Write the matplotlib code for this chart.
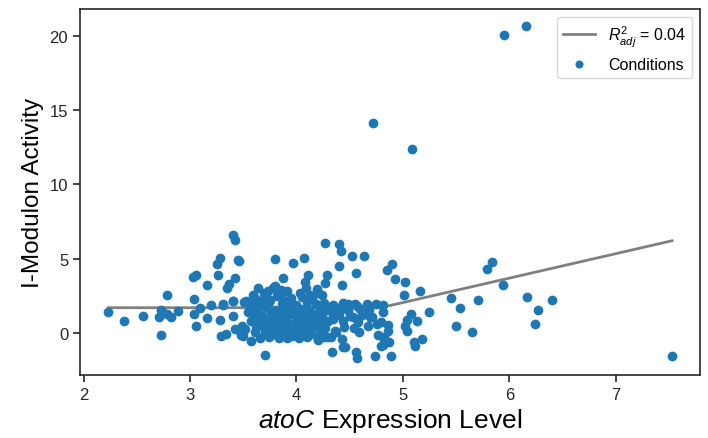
import matplotlib
matplotlib.use("Agg")
import matplotlib.pyplot as plt

plt.rcParams['font.family'] = ['Liberation Sans', 'DejaVu Sans']
plt.rcParams['mathtext.fontset'] = 'custom'
plt.rcParams['mathtext.rm'] = 'Liberation Sans'
plt.rcParams['mathtext.it'] = 'Liberation Sans:italic'

# expression level / i-modulon activity
expr = [
    # sparse left part
    2.23, 2.38, 2.56, 2.71, 2.73, 2.73, 2.78, 2.78, 2.82, 2.89,
    3.04, 3.04, 3.06, 3.03, 3.06, 3.16, 3.16, 3.09, 3.20, 3.28,
    3.29, 3.34, 3.25, 3.28, 3.26, 3.35, 3.37, 3.42, 3.40, 3.42,
    3.45, 3.46, 3.40, 3.42, 3.48, 3.57, 3.66, 3.70, 3.49, 3.52,
    3.61, 3.40, 3.31, 3.51, 3.54, 3.59, 3.64, 3.69, 3.73, 3.78,
    3.62, 3.64, 3.71, 3.75, 3.50, 3.59, 3.31, 3.40, 3.53, 3.63,
    3.69, 3.75, 3.85, 3.91,
    # upper middle
    3.80, 3.97, 4.07, 4.27, 4.40, 4.42, 4.52, 4.63, 4.40, 4.56,
    4.29, 4.11, 3.87, 4.08, 4.27, 4.43, 4.09, 3.80, 3.91, 4.19,
    3.79, 3.85, 4.03, 4.13, 4.20, 4.24,
    # right part
    4.75, 4.90, 4.85, 4.93, 5.02, 5.01, 5.16, 5.25, 5.08, 5.13,
    5.04, 5.02, 5.04, 5.18, 5.10, 5.11, 4.89, 4.81, 4.81, 4.79,
    4.86, 4.86, 4.82, 4.87, 4.81, 5.45, 5.54, 5.50, 5.65, 5.71,
    5.79, 5.84, 5.94, 6.17, 6.27, 6.24, 6.40, 7.53,
    5.95, 6.16, 4.72, 5.09,
    # lower middle
    4.33, 4.57, 4.56, 4.74, 4.46, 4.43, 4.37, 4.59, 4.67, 4.71,
    4.77, 4.29, 4.25, 4.20, 3.91, 3.96, 4.76, 4.82, 4.79, 4.44,
    4.20, 4.32, 4.36, 3.96, 4.05, 4.11, 4.19, 4.19, 4.34, 4.44,
    4.53, 4.69, 4.48, 4.57, 4.66, 4.41, 4.32, 4.34,
    # dense core
    3.60, 3.70, 3.82, 3.95, 4.05, 4.15,
    3.58, 3.66, 3.74, 3.86, 3.93, 4.00, 4.10, 4.18, 4.26, 4.34, 4.44, 4.55,
    3.56, 3.63, 3.71, 3.80, 3.88, 3.97, 4.04, 4.12, 4.22, 4.28, 4.38, 4.48, 4.60, 4.68,
    3.60, 3.68, 3.76, 3.84, 3.92, 4.00, 4.08, 4.16, 4.24, 4.40, 4.50, 4.62,
    3.57, 3.66, 3.74, 3.82, 3.90, 3.99, 4.06, 4.14, 4.25, 4.30, 4.58,
    3.62, 3.69, 3.79, 3.86, 3.94, 4.02, 4.09, 4.17, 4.27, 4.45, 4.54,
    3.70, 3.80, 3.88, 3.98, 4.06, 4.14, 4.22,
    3.74, 3.84, 4.02, 4.10,
]
activity = [
    1.40, 0.80, 1.13, 1.07, -0.13, 1.60, 2.60, 1.27, 1.07, 1.53,
    2.33, 1.33, 0.47, 3.80, 3.93, 3.27, 1.00, 1.73, 1.87, 0.87,
    -0.20, -0.07, 4.67, 5.07, 3.93, 3.07, 3.33, 3.73, 6.60, 6.27,
    4.93, 4.87, 1.13, 0.27, -0.13, -0.53, -0.33, -1.47, 0.47, 0.27,
    0.07, 2.20, 1.87, 2.13, 1.40, 2.60, 3.07, 2.73, 2.87, 3.07,
    1.13, 0.80, 0.47, 0.27, -0.20, 1.40, 1.94, 2.14, 2.14, 2.27,
    2.14, 2.27, 2.41, 2.14,
    5.00, 4.73, 5.07, 6.07, 6.00, 5.53, 5.20, 5.20, 4.53, 4.07,
    3.93, 3.93, 3.73, 3.47, 3.40, 3.27, 3.07, 3.20, 2.87, 3.00,
    3.13, 2.93, 2.73, 2.60, 2.73, 2.60,
    2.00, 4.67, 4.27, 3.67, 3.47, 2.60, 2.87, 1.40, 1.27, 0.80,
    0.87, 0.47, 0.13, -0.40, -0.60, -0.87, -1.53, 1.93, 1.40, 0.73,
    0.53, 0.13, -0.27, -0.60, -0.80, 2.40, 1.67, 0.47, 0.07, 2.27,
    4.33, 4.80, 3.27, 2.47, 1.60, 0.60, 2.27, -1.50,
    20.07, 20.67, 14.10, 12.40,
    -1.27, -1.67, -1.27, -1.53, -0.93, -0.40, 0.07, 0.07, 0.47, 1.07,
    -0.13, -0.27, -0.27, -0.47, -0.33, -0.13, 0.60, -0.40, -0.87, -0.94,
    -0.40, -0.27, 0.13, -0.20, 0.07, 0.20, 0.87, 0.47, 0.94, 0.80,
    1.07, 1.07, 1.94, 1.81, 1.94, 1.60, 1.60, 1.14,
    2.45, 2.35, 2.50, 2.38, 2.44, 2.30,
    2.05, 1.95, 2.10, 1.98, 2.02, 1.90, 2.08, 1.96, 2.04, 1.92, 2.06, 1.98,
    1.62, 1.55, 1.68, 1.58, 1.64, 1.52, 1.66, 1.57, 1.63, 1.54, 1.67, 1.59, 1.61, 1.56,
    1.22, 1.16, 1.26, 1.18, 1.24, 1.14, 1.20, 1.28, 1.17, 1.23, 1.19, 1.25,
    0.82, 0.76, 0.86, 0.78, 0.84, 0.74, 0.80, 0.88, 0.77, 0.83, 0.79,
    0.42, 0.36, 0.46, 0.38, 0.44, 0.34, 0.40, 0.48, 0.37, 0.43, 0.39,
    0.02, -0.04, 0.06, -0.02, 0.04, -0.06, 0.00,
    -0.28, -0.34, -0.30, -0.26,
]

# piecewise fit line
fit_x = [2.23, 4.79, 7.53]
fit_y = [1.72, 1.72, 6.22]
r2_adj = 0.04

fig = plt.figure(figsize=(7.08, 4.39), dpi=100)
ax = fig.add_axes([0.113, 0.144, 0.876, 0.833])

ax.plot(fit_x, fit_y, color='gray', lw=2, label=r'$R^2_{adj}$ = %.2f' % r2_adj, zorder=1)
ax.scatter(expr, activity, s=36, color='#1f77b4', label='Conditions', zorder=2)

ax.set_xlabel(r'$\it{atoC}$ Expression Level', fontsize=19, labelpad=3)
ax.set_ylabel('I-Modulon Activity', fontsize=17.5)
ax.set_xticks([2, 3, 4, 5, 6, 7])
ax.set_yticks([0, 5, 10, 15, 20])
ax.tick_params(labelsize=12, direction='out', length=5, width=1.2,
               colors='#262626')
for s in ax.spines.values():
    s.set_color('#262626')
    s.set_linewidth(1.2)

ax.legend(loc='upper right', fontsize=11.5, markerscale=0.8, frameon=True,
          edgecolor='#cccccc', fancybox=True)

fig.savefig('out.png', dpi=100)
